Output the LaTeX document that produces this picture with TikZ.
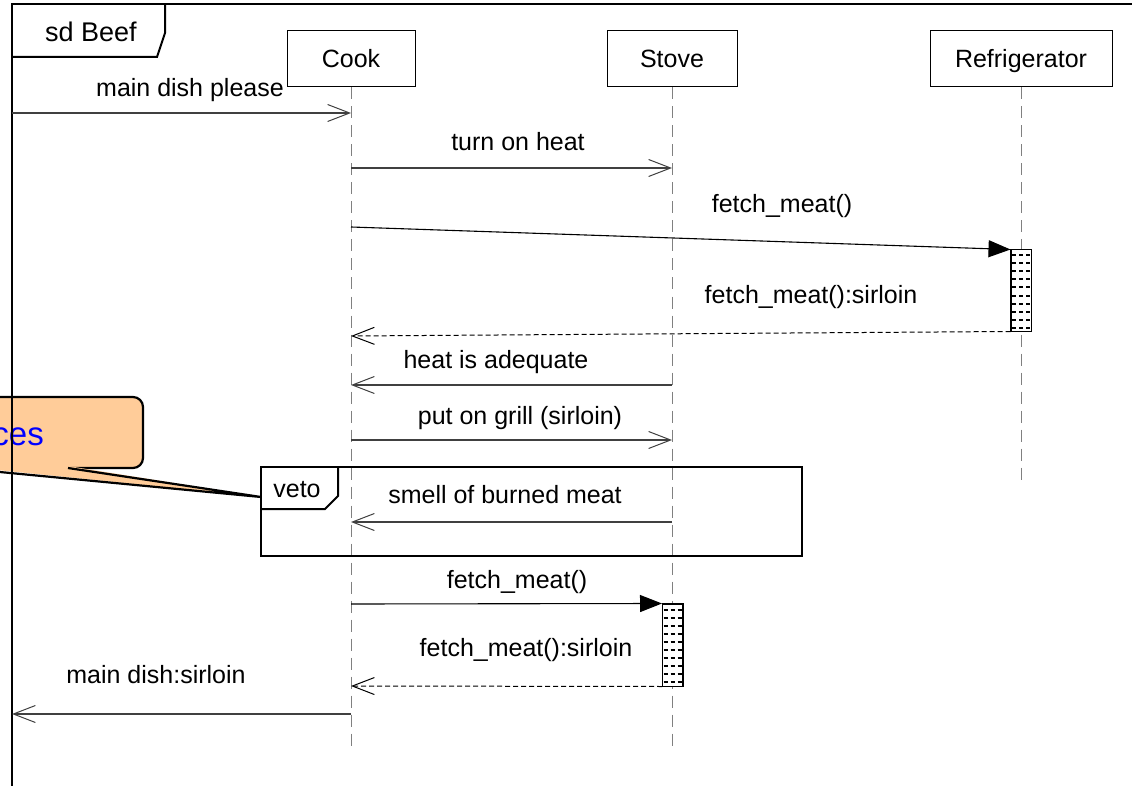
\documentclass[tikz,border=0pt]{standalone}
\usepackage{fontspec}
\setmainfont{Liberation Sans}
\usetikzlibrary{arrows.meta}
\definecolor{peach}{HTML}{FFCC99}
\definecolor{lifegray}{HTML}{808080}
\begin{document}
\begin{tikzpicture}[x=1pt,y=-1pt,
  every node/.style={font=\fontsize{25}{30}\selectfont, inner sep=0pt},
  lbl/.style={anchor=base},
  head/.style={draw, line width=1pt, fill=white, minimum height=56pt,
    text height=19pt, text depth=1pt},
  life/.style={draw=lifegray, line width=1pt, dash pattern=on 12pt off 7pt},
  msg/.style={draw=black!75, line width=1.1pt,
    -{Straight Barb[length=22pt,width=17pt,line width=1pt]}},
  syncmsg/.style={draw=black, line width=1.1pt,
    -{Triangle[length=22pt,width=17pt]}},
  retmsg/.style={draw=black, line width=1pt, dash pattern=on 5pt off 3pt,
    -{Straight Barb[length=22pt,width=17pt,line width=1pt]}},
  actbar/.style={draw, line width=1pt, fill=white, minimum width=20pt},
  framepen/.style={line width=2pt, line join=miter},
]
\useasboundingbox (0,0) rectangle (1132,786);
\clip (0,0) rectangle (1132,786);

% ---- note callout pointing at the veto fragment
\draw[line width=2.2pt, fill=peach, rounded corners=10pt] (-300,397) rectangle (143,468);
\fill[peach] (-42,466) -- (68,466) -- (261,497) -- cycle;
\draw[line width=2.2pt, line join=miter] (68,468) -- (261,497) -- (-42,468);
\node[anchor=base east, text=blue, font=\fontsize{33}{36}\selectfont] (note) at (44,445) {ces};

% ---- sequence diagram frame
\draw[framepen] (12,786) -- (12,4) -- (1132,4);
\draw[framepen] (12,57) -- (157,57) -- (165,33) -- (165,4);
\node[lbl, font=\fontsize{27}{30}\selectfont] (sdlabel) at (91,42) {sd Beef};

% ---- lifeline heads
\node[head, minimum width=128pt] (cook)   at (351,59)  {Cook};
\node[head, minimum width=130pt] (stove)  at (672,59)  {Stove};
\node[head, minimum width=182pt] (fridge) at (1021,59) {Refrigerator};

\coordinate (cookend)   at (351,752);
\coordinate (stoveend)  at (672,752);
\coordinate (fridgeend) at (1021,480);
\draw[life] (cook.south)   -- (cookend);
\draw[life] (stove.south)  -- (stoveend);
\draw[life] (fridge.south) -- (fridgeend);

% ---- activation bars
\node[actbar, minimum height=81pt] (act1) at (1021,290.5) {};
\node[actbar, minimum height=82pt] (act2) at (672.5,645) {};
\foreach \bar in {act1,act2}{
  \begin{scope}
    \clip (\bar.north west) rectangle (\bar.south east);
    \foreach \k in {0,...,9}{
      \draw[line width=2pt, dash pattern=on 4pt off 3pt, dash phase=-1.5pt]
        ([yshift=-6pt-8*\k pt]\bar.north west) -- ([yshift=-6pt-8*\k pt]\bar.north east);
    }
  \end{scope}
  \draw[line width=1pt] (\bar.north west) rectangle (\bar.south east);
}

% ---- message end points
\coordinate (g1) at (12,113);   \coordinate (c1) at (351,113);
\coordinate (c2) at (351,168);  \coordinate (s2) at (672,168);
\coordinate (c3) at (351,227);
\coordinate (c4) at (351,336);
\coordinate (c5) at (351,385);  \coordinate (s5) at (672,385);
\coordinate (c6) at (351,440);  \coordinate (s6) at (672,440);
\coordinate (c7) at (351,522);  \coordinate (s7) at (672,522);
\coordinate (c8) at (351,604);
\coordinate (c9) at (351,686);
\coordinate (c10) at (351,714); \coordinate (g10) at (12,714);

% ---- messages
\draw[msg] (g1) -- (c1);
\node[lbl] (m1) at (190,97) {main dish please};

\draw[msg] (c2) -- (s2);
\node[lbl] (m2) at (518,151) {turn on heat};

\draw[syncmsg] (c3) -- (act1.north west);
\node[lbl] (m3) at (782,213) {fetch\_meat()};

\draw[retmsg] (act1.south west) -- (c4);
\node[lbl] (m4) at (811,304) {fetch\_meat():sirloin};

\draw[msg] (s5) -- (c5);
\node[lbl] (m5) at (496,368) {heat is adequate};

\draw[msg] (c6) -- (s6);
\node[lbl] (m6) at (520,424) {put on grill (sirloin)};

% ---- veto combined fragment
\node[draw, line width=2pt, minimum width=541pt, minimum height=89pt] (veto) at (531.5,511.5) {};
\draw[framepen] (veto.north west |- 0,509) -- (325,509) -- (338,496) -- (338,467);
\node[lbl] (vetolabel) at (297,497) {veto};

\draw[msg] (s7) -- (c7);
\node[lbl] (m7) at (505,503) {smell of burned meat};

\draw[syncmsg] (c8) -- (act2.north west);
\node[lbl] (m8) at (517,588) {fetch\_meat()};

\draw[retmsg] (act2.south west) -- (c9);
\node[lbl] (m9) at (526,656) {fetch\_meat():sirloin};

\draw[msg] (c10) -- (g10);
\node[lbl] (m10) at (156,683) {main dish:sirloin};
\end{tikzpicture}
\end{document}
